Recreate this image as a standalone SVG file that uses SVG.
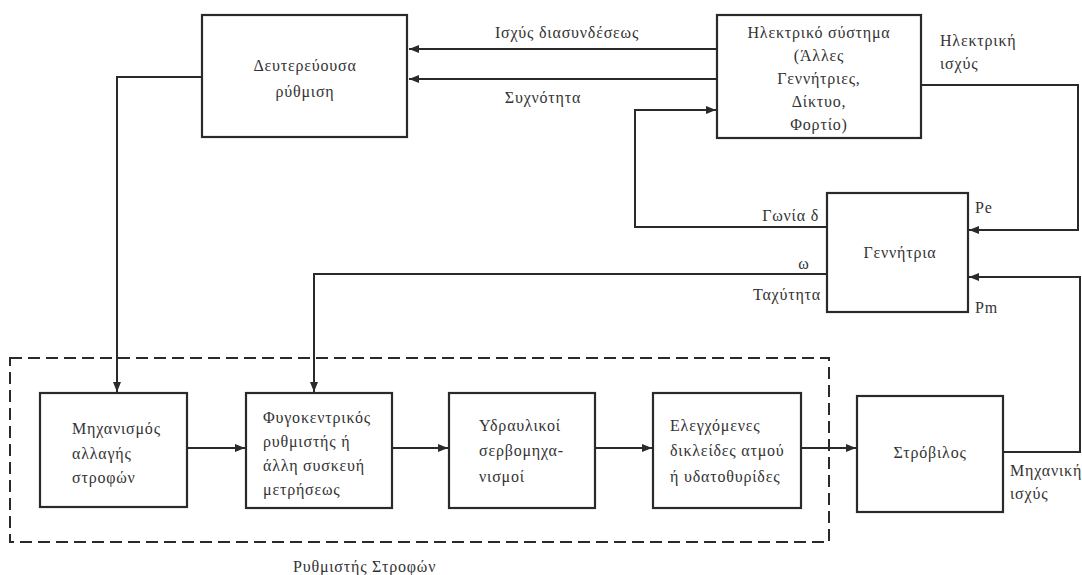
<svg xmlns="http://www.w3.org/2000/svg" width="1082" height="575" viewBox="0 0 1082 575">
<style>
.box{fill:none;stroke:#2a2a2a;stroke-width:2.2}
.ln{fill:none;stroke:#2a2a2a;stroke-width:2;marker-end:url(#ah)}
.pl{fill:none;stroke:#2a2a2a;stroke-width:2}
.dash{fill:none;stroke:#2a2a2a;stroke-width:2;stroke-dasharray:12 6}
text{font-family:"Liberation Serif","DejaVu Serif",serif;font-size:16px;fill:#333;letter-spacing:0.8px;dominant-baseline:central}
.c{text-anchor:middle}
.r{text-anchor:end}
</style>
<defs>
<marker id="ah" markerUnits="userSpaceOnUse" markerWidth="10" markerHeight="8" refX="10" refY="4" orient="auto">
<path d="M0,0 L10,4 L0,8 z" fill="#2a2a2a"/>
</marker>
</defs>
<rect width="1082" height="575" fill="#ffffff"/>
<g id="connectors">
<path class="ln" d="M717,49 H409"/>
<path class="ln" d="M717,79 H409"/>
<path class="ln" d="M202,77 H117 V392"/>
<path class="ln" d="M827,227 H635 V110 H716"/>
<path class="ln" d="M921,85 H1078 V230 H969"/>
<path class="ln" d="M827,274 H314 V392"/>
<path class="ln" d="M1003,452 H1080 V277 H969"/>
<path class="ln" d="M187,448 H245"/>
<path class="ln" d="M392,448 H448"/>
<path class="ln" d="M595,448 H652"/>
<path class="ln" d="M801,448 H856"/>
<text class="c" x="567" y="32">Ισχύς διασυνδέσεως</text>
<text class="c" x="543" y="97">Συχνότητα</text>
<text x="940" y="40">Ηλεκτρική</text>
<text x="940" y="63">ισχύς</text>
<text class="r" x="819" y="215">Γωνία δ</text>
<text class="c" x="804" y="263">ω</text>
<text class="r" x="821" y="294">Ταχύτητα</text>
<text x="975" y="207">Pe</text>
<text x="975" y="307">Pm</text>
<text x="1010" y="470">Μηχανική</text>
<text x="1010" y="493">ισχύς</text>
</g>
<g id="speed-governor">
<rect class="dash" x="10" y="358" width="819" height="184"/>
<text x="293" y="566">Ρυθμιστής Στροφών</text>
</g>
<g id="secondary">
<rect class="box" x="202" y="15" width="205" height="122"/>
<text class="c" x="305" y="65">Δευτερεύουσα</text>
<text class="c" x="305" y="91">ρύθμιση</text>
</g>
<g id="electric-system">
<rect class="box" x="717" y="15" width="204" height="123"/>
<text class="c" x="819" y="32">Ηλεκτρικό σύστημα</text>
<text class="c" x="819" y="55">(Άλλες</text>
<text class="c" x="819" y="78">Γεννήτριες,</text>
<text class="c" x="819" y="101">Δίκτυο,</text>
<text class="c" x="819" y="124">Φορτίο)</text>
</g>
<g id="generator">
<rect class="box" x="827" y="193" width="141" height="119"/>
<text class="c" x="900" y="252">Γεννήτρια</text>
</g>
<g id="mechanism">
<rect class="box" x="40" y="393" width="147" height="114"/>
<text x="72" y="428">Μηχανισμός</text>
<text x="72" y="453">αλλαγής</text>
<text x="72" y="477">στροφών</text>
</g>
<g id="centrifugal">
<rect class="box" x="246" y="393" width="146" height="115"/>
<text x="263" y="417">Φυγοκεντρικός</text>
<text x="263" y="441">ρυθμιστής ή</text>
<text x="263" y="465">άλλη συσκευή</text>
<text x="263" y="489">μετρήσεως</text>
</g>
<g id="hydraulic">
<rect class="box" x="449" y="393" width="146" height="115"/>
<text x="479" y="425">Υδραυλικοί</text>
<text x="479" y="450">σερβομηχα-</text>
<text x="479" y="476">νισμοί</text>
</g>
<g id="valves">
<rect class="box" x="653" y="393" width="148" height="115"/>
<text x="670" y="425">Ελεγχόμενες</text>
<text x="670" y="450">δικλείδες ατμού</text>
<text x="670" y="476">ή υδατοθυρίδες</text>
</g>
<g id="turbine">
<rect class="box" x="857" y="396" width="146" height="116"/>
<text class="c" x="930" y="452">Στρόβιλος</text>
</g>
</svg>
